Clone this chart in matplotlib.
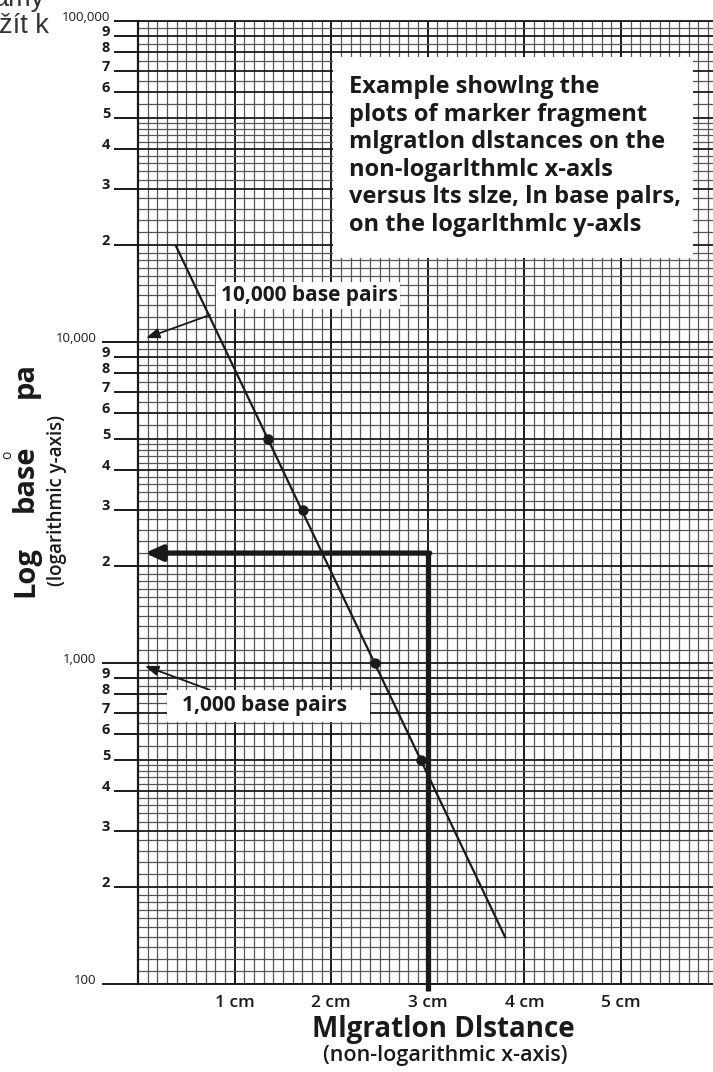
import numpy as np
import matplotlib
matplotlib.use("Agg")
import matplotlib.pyplot as plt
from matplotlib.patches import Rectangle

plt.rcParams['font.family'] = ['Open Sans', 'DejaVu Sans']

# marker fragments: migration distance (cm) and size (bp)
marker_dist = [1.35, 1.71, 2.45, 2.93]
marker_bp = [5000, 3000, 1000, 500]
# ends of the drawn standard line
line_dist = [0.39, 3.80]
line_bp = [20000, 140]
# unknown band: distance and the size read back from the line
unknown_dist = 3.0
unknown_bp = 2200

xtick_pos = [0, 1, 2, 3, 4, 5]
xtick_lab = ['', '1 cm', '2 cm', '3 cm', '4 cm', '5 cm']
decade_pos = [100, 1000, 10000]
decade_lab = ['100', '1,000', '10,000']
digits = [2, 3, 4, 5, 6, 7, 8, 9]

W, H = 713, 1072
def fx(px):
    return px / W
def fy(py):
    return 1 - py / H

fig = plt.figure(figsize=(W / 100, H / 100), dpi=100)
ax = fig.add_axes([fx(138), fy(984), 1 - fx(138), fy(21) - fy(984)])
ax.set_yscale('log')
ax.set_xlim(0, (W - 138) / 96.6)
ax.set_ylim(100, 100000)
ax.set_axisbelow(True)

ink = '#1a1a1a'

# y ticks: decades long, digits short
minor_pos = [d * dec for dec in decade_pos for d in digits] + [100000]
minor_lab = [str(d) for dec in decade_pos for d in digits] + ['100,000']
ax.set_yticks(decade_pos, labels=decade_lab)
ax.set_yticks(minor_pos, labels=minor_lab, minor=True)
ax.tick_params(axis='y', which='major', length=26, width=1.4, pad=4,
               color=ink, labelsize=9.5, labelcolor=ink)
ax.tick_params(axis='y', which='minor', length=17, width=1.4, pad=3,
               color=ink, labelsize=10.5, labelcolor=ink)
for lbl in ax.get_yticklabels(minor=True):
    if lbl.get_text() == '100,000':
        lbl.set_fontsize(9.5)
    else:
        lbl.set_fontweight('bold')
    lbl.set_verticalalignment('baseline')
for lbl in ax.get_yticklabels():
    lbl.set_verticalalignment('baseline')

ax.set_xticks(xtick_pos, labels=xtick_lab)
ax.set_xticks([v / 10 for v in range(1, 60) if v % 10], minor=True)
ax.tick_params(axis='x', which='both', length=0, pad=8, labelsize=12.5,
               labelcolor=ink)
for lbl in ax.get_xticklabels():
    lbl.set_fontweight('semibold')

# graph paper
ax.xaxis.grid(True, which='major', color=ink, lw=1.4)
ax.xaxis.grid(True, which='minor', color='#555555', lw=0.9)
ax.yaxis.grid(True, which='both', color=ink, lw=1.3)
for dec in decade_pos:
    subs = [1 + i / 10 for i in range(1, 10)] + [2.2, 2.4, 2.6, 2.8, 3.2, 3.4, 3.6, 3.8,
                                                 4.2, 4.4, 4.6, 4.8, 5.5, 6.5, 7.5, 8.5, 9.5]
    for s in subs:
        ax.axhline(s * dec, color='#555555', lw=0.9, zorder=0.6)

ax.spines['right'].set_visible(False)
ax.spines['left'].set_linewidth(1.6)
ax.spines['bottom'].set_linewidth(1.4)
ax.spines['top'].set_linewidth(1.3)
for side in ['left', 'bottom', 'top']:
    ax.spines[side].set_color(ink)

# standard curve
ax.plot(line_dist, line_bp, color=ink, lw=1.6, zorder=3)
ax.plot(marker_dist, marker_bp, 'o', color=ink, ms=6.5, zorder=4)

# reading the unknown
ax.plot([unknown_dist, unknown_dist], [95, unknown_bp], color=ink, lw=3.8,
        solid_capstyle='butt', clip_on=False, zorder=5)
ax.annotate('', xy=(0.07, unknown_bp), xytext=(unknown_dist + 0.02, unknown_bp),
            arrowprops=dict(arrowstyle='-|>,head_length=1.0,head_width=0.45',
                            lw=3.8, color=ink, mutation_scale=10,
                            shrinkA=0, shrinkB=0), zorder=5)

# pointers to 10,000 and 1,000
ax.annotate('', xy=(0.083, 10290), xytext=(0.745, 12140),
            arrowprops=dict(arrowstyle='-|>,head_length=0.8,head_width=0.3',
                            lw=1.3, color=ink, mutation_scale=10,
                            shrinkA=0, shrinkB=0), zorder=5)
ax.annotate('', xy=(0.072, 979), xytext=(0.745, 824),
            arrowprops=dict(arrowstyle='-|>,head_length=0.8,head_width=0.3',
                            lw=1.3, color=ink, mutation_scale=10,
                            shrinkA=0, shrinkB=0), zorder=5)

def white_box(x0, y0, x1, y1):
    fig.add_artist(Rectangle((fx(x0), fy(y1)), fx(x1) - fx(x0), fy(y0) - fy(y1),
                             transform=fig.transFigure, facecolor='white',
                             edgecolor='none', zorder=2))

white_box(216, 282, 400, 309)
fig.text(fx(221), fy(296), '10,000 base pairs', fontsize=15, fontweight='bold',
         color=ink, ha='left', va='center', zorder=3)
white_box(167, 690, 370, 722)
fig.text(fx(182), fy(706), '1,000 base pairs', fontsize=15, fontweight='bold',
         color=ink, ha='left', va='center', zorder=3)

white_box(333, 57, 693, 258)
fig.text(fx(349), fy(156),
         'Example showlng the\nplots of marker fragment\nmlgratlon dlstances on the\n'
         'non-logarlthmlc x-axls\nversus lts slze, ln base palrs,\non the logarlthmlc y-axls',
         fontsize=17, fontweight='bold', color=ink, ha='left', va='center',
         linespacing=1.2, zorder=3)

# axis titles
fig.text(fx(443), fy(1030), 'Mlgratlon Dlstance', fontsize=20, fontweight='bold',
         color=ink, ha='center', va='center')
fig.text(fx(445), fy(1056), '(non-logarithmic x-axis)', fontsize=15.5,
         fontweight='semibold', color=ink, ha='center', va='center')

for word, yc in [('Log', 572), ('base', 478), ('pa', 380)]:
    fig.text(fx(33), fy(yc), word, fontsize=21, fontweight='bold', color=ink,
             rotation=90, rotation_mode='anchor', ha='center', va='baseline')
fig.text(fx(8), fy(455), 'o', fontsize=10, color=ink, rotation=90,
         rotation_mode='anchor', ha='center', va='center')
fig.text(fx(62), fy(500), '(logarithmic y-axis)', fontsize=13.5,
         fontweight='semibold', color=ink, rotation=90, rotation_mode='anchor',
         ha='center', va='baseline')

# bits of the page the scan cut into
fig.text(fx(45), fy(6), 'ámy', fontsize=19.5, family='Liberation Sans',
         color='#333333', ha='right', va='baseline')
fig.text(fx(-1), fy(33), 'žít k', fontsize=19.5, family='Liberation Sans',
         color='#333333', ha='left', va='baseline')

fig.savefig('out.png', dpi=100)
